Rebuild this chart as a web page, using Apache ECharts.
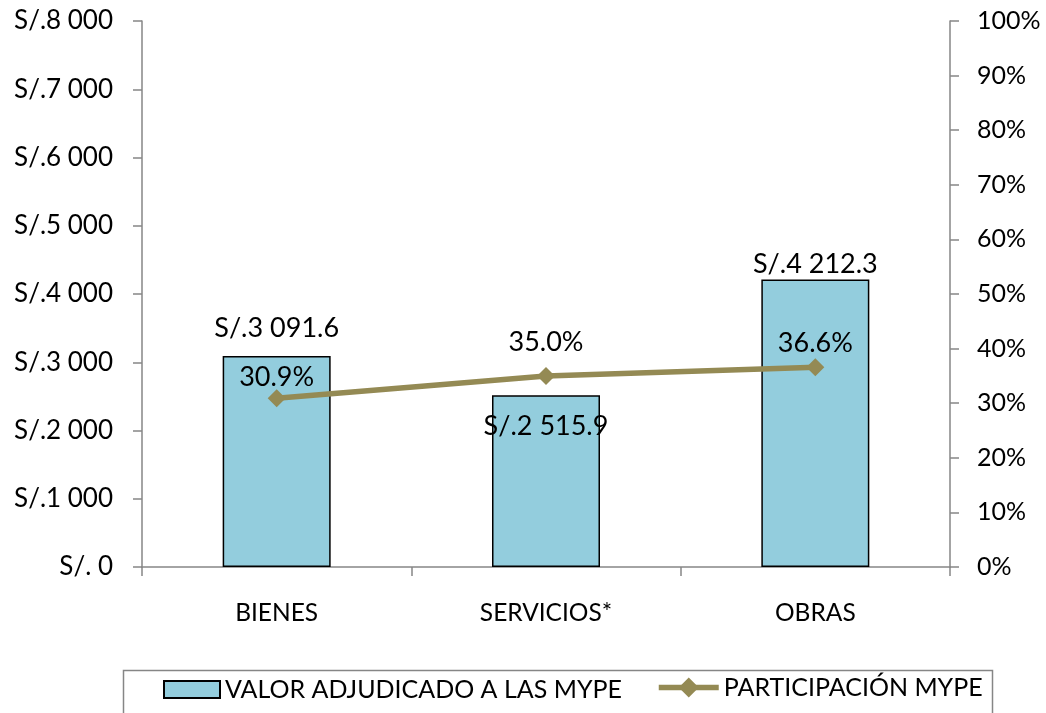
<!DOCTYPE html>
<html><head><meta charset="utf-8">
<script src="https://cdn.jsdelivr.net/npm/echarts@6/dist/echarts.min.js"></script>
<style>html,body{margin:0;padding:0;background:#fff}#c{width:1046px;height:713px}</style>
</head><body><div id="c"></div>
<script>
const categories = ['BIENES', 'SERVICIOS*', 'OBRAS'];
const valores = [3091.6, 2515.9, 4212.3];
const participacion = [30.9, 35.0, 36.6];
const seriesNames = ['VALOR ADJUDICADO A LAS MYPE', 'PARTICIPACIÓN MYPE'];

const FONT = 'Lato';
function fmtSoles(v, dec) {
  const s = dec ? v.toFixed(1) : Math.round(v).toString();
  const parts = s.split('.');
  const ip = parts[0].replace(/\B(?=(\d{3})+(?!\d))/g, ' ');
  return 'S/.' + (v === 0 ? ' ' : '') + ip + (parts[1] ? '.' + parts[1] : '');
}
const barLabelPos = ['top', 'insideTop', 'top'];
const barLabelDist = [14, 18, 2];
const lineLabelDist = [-2, 11, 1];

const chart = echarts.init(document.getElementById('c'));
const txt = (size) => ({color: '#000', fontFamily: FONT, fontSize: size});
const axisCol = '#868686';
chart.setOption({
  animation: false,
  textStyle: {fontFamily: FONT},
  grid: {left: 142, right: 96, top: 21, bottom: 146},
  graphic: [{
    type: 'rect', left: 121, top: 668, z: -1,
    shape: {width: 869, height: 70},
    style: {fill: 'none', stroke: axisCol, lineWidth: 1.5}
  }],
  legend: [{
    left: 163, top: 677, padding: 0,
    itemWidth: 56, itemHeight: 17,
    textStyle: txt(25),
    data: [{name: seriesNames[0], icon: 'rect'}]
  }, {
    left: 656, top: 675, padding: 0,
    itemWidth: 60, itemHeight: 25,
    textStyle: txt(25),
    data: [{name: seriesNames[1], lineStyle: {width: 5.5}}]
  }],
  xAxis: {
    type: 'category', data: categories,
    axisLine: {lineStyle: {color: axisCol, width: 1.5}},
    axisTick: {show: true, length: 9, lineStyle: {color: axisCol, width: 1.5}},
    axisLabel: Object.assign(txt(24.5), {margin: 34})
  },
  yAxis: [{
    type: 'value', min: 0, max: 8000, interval: 1000,
    splitLine: {show: false},
    axisLine: {show: true, lineStyle: {color: axisCol, width: 1.5}},
    axisTick: {show: true, length: 9, lineStyle: {color: axisCol, width: 1.5}},
    axisLabel: Object.assign(txt(26), {margin: 29, formatter: v => fmtSoles(v, false)})
  }, {
    type: 'value', min: 0, max: 100, interval: 10,
    splitLine: {show: false},
    axisLine: {show: true, lineStyle: {color: axisCol, width: 1.5}},
    axisTick: {show: true, length: 9, lineStyle: {color: axisCol, width: 1.5}},
    axisLabel: Object.assign(txt(25), {margin: 27, formatter: v => v + '%'})
  }],
  series: [{
    name: seriesNames[0], type: 'bar', barWidth: 108,
    itemStyle: {color: '#93CDDD', borderColor: '#000', borderWidth: 1.5},
    data: valores.map((v, i) => ({value: v, label: {position: barLabelPos[i], distance: barLabelDist[i]}})),
    label: Object.assign({show: true}, txt(27), {formatter: p => fmtSoles(p.value, true)}),
    z: 2
  }, {
    name: seriesNames[1], type: 'line', yAxisIndex: 1,
    symbol: 'diamond', symbolSize: 18,
    lineStyle: {color: '#948A54', width: 5.5},
    itemStyle: {color: '#948A54'},
    data: participacion.map((v, i) => ({value: v, label: {distance: lineLabelDist[i]}})),
    label: Object.assign({show: true, position: 'top'}, txt(27), {formatter: p => p.value.toFixed(1) + '%'}),
    z: 3
  }]
});
</script></body></html>
